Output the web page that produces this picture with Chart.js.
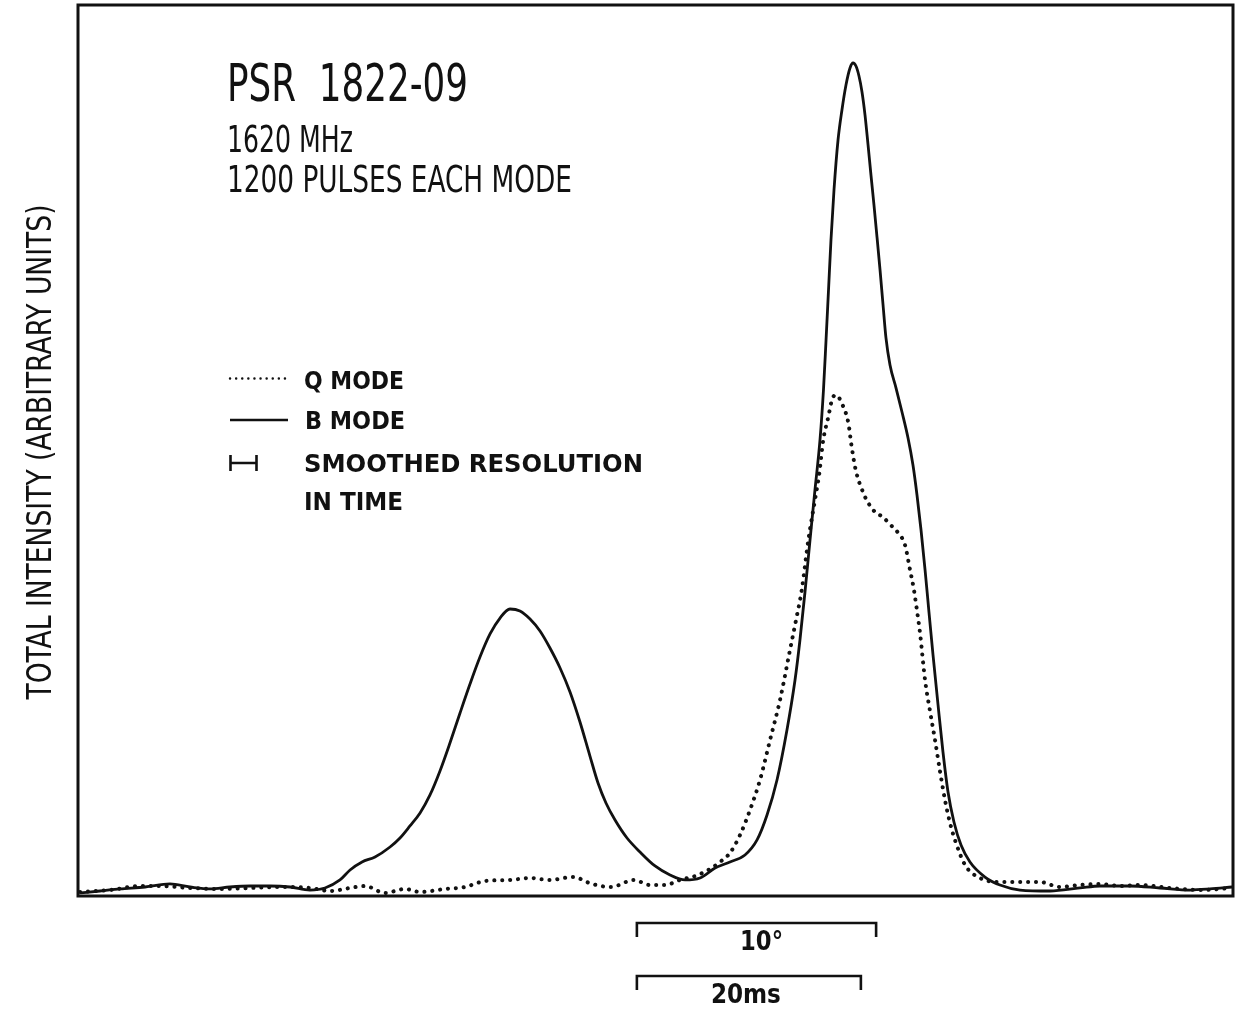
<!DOCTYPE html>
<html>
<head>
<meta charset="utf-8">
<script src="https://cdn.jsdelivr.net/npm/chart.js@4.4.1/dist/chart.umd.min.js"></script>
<style>
html,body{margin:0;padding:0;background:#fff;}
#wrap{width:1248px;height:1011px;position:relative;}
</style>
</head>
<body>
<div id="wrap"><canvas id="c"></canvas></div>
<script>
// ---- data (time in ms across the pulse window, intensity in arbitrary units 0..100) ----
const bTime = [0.18,1.96,3.75,5.98,8.21,10.0,11.79,13.57,15.36,17.14,18.93,20.71,22.05,23.39,24.29,25.36,26.52,27.86,
  28.75,29.64,30.54,31.43,32.32,33.21,34.11,35.00,35.89,36.79,37.68,38.57,39.46,40.36,41.25,42.14,43.04,43.93,44.82,45.71,46.43,47.14,47.95,49.02,50.18,51.52,52.86,54.20,
  55.54,56.88,58.21,59.55,60.63,61.52,62.41,63.30,64.02,64.46,64.91,65.36,65.80,66.25,66.56,66.79,67.01,67.23,67.50,67.86,68.21,68.57,68.93,69.20,69.46,69.73,70.00,70.27,70.54,70.80,71.07,71.34,71.61,71.88,72.14,72.50,73.04,73.57,74.11,74.55,74.91,75.27,75.63,75.98,76.34,76.79,77.23,77.68,78.21,78.84,79.64,80.98,82.32,84.11,86.79,89.46,91.25,93.93,96.61,99.29,101.07,103.04];
const bIntensity = [0.34,0.56,0.79,1.01,1.35,1.01,0.79,1.01,1.12,1.12,1.01,0.67,0.90,1.80,2.92,3.82,4.38,5.50,
  6.51,7.86,9.32,11.34,14.03,17.17,20.54,23.79,26.82,29.41,31.20,32.21,31.99,31.09,29.74,27.83,25.59,22.90,19.53,15.71,12.68,10.44,8.53,6.51,4.94,3.37,2.36,1.80,
  2.02,3.14,3.82,4.60,6.29,9.09,13.02,18.63,24.24,28.73,34.12,39.96,45.57,51.18,56.79,62.40,68.01,73.63,79.24,84.85,88.22,91.02,92.93,93.49,93.15,92.03,90.24,87.65,84.29,80.92,77.55,73.96,70.26,66.33,62.63,59.60,57.01,54.32,51.40,48.37,45.01,41.08,36.59,31.87,27.05,21.44,16.16,11.67,8.31,5.72,3.82,2.13,1.23,0.67,0.56,0.90,1.12,1.12,0.90,0.67,0.79,1.01];
const qTime = [0.18,2.86,5.54,7.32,10.0,12.68,15.36,18.04,20.71,22.50,24.29,25.63,27.41,29.20,30.54,32.77,34.55,36.34,38.57,40.36,42.14,44.20,45.89,47.59,49.64,51.07,52.41,53.75,55.09,56.43,57.32,58.21,59.11,60.0,60.89,61.79,62.68,63.57,64.11,64.62,65.21,65.80,66.19,66.54,66.99,67.32,67.62,67.90,68.19,68.78,69.08,69.44,70.12,70.56,71.16,71.85,72.56,73.24,73.84,74.29,74.64,74.94,75.18,75.63,76.07,76.52,76.96,77.41,77.86,78.30,79.20,80.54,82.32,84.11,85.89,87.68,89.46,91.25,93.04,94.82,97.50,100.18,103.04];
const qIntensity = [0.45,0.67,1.12,1.12,0.90,0.79,0.90,1.01,0.90,0.56,0.90,1.12,0.34,0.79,0.45,0.79,1.01,1.68,1.80,2.02,1.80,2.13,1.35,1.01,1.80,1.23,1.23,1.80,2.24,3.03,3.82,4.83,6.85,9.65,13.02,17.51,22.00,27.61,30.97,34.34,39.96,44.44,47.47,51.18,53.76,55.67,56.23,56.00,55.33,53.09,50.39,47.81,45.23,44.11,43.10,42.54,41.64,40.74,39.39,36.59,34.34,31.76,29.52,24.24,20.76,17.51,14.03,10.77,8.19,6.29,3.48,2.02,1.57,1.57,1.57,1.01,1.23,1.35,1.12,1.23,0.90,0.67,0.90];

const xRangeMs = [0, 103.125];
const yRange = [0, 100];

// scale bars (ms): 10 degrees of longitude (P = 769 ms) and 20 ms
const barStartMs = 49.9;
const barLengths = [21.36, 20];
const barLabels = ['10°', '20ms'];

// text
const titleLines = ['PSR  1822-09', '1620 MHz', '1200 PULSES EACH MODE'];
const legendLabels = ['Q MODE', 'B MODE', 'SMOOTHED RESOLUTION', 'IN TIME'];
const yAxisTitle = 'TOTAL INTENSITY (ARBITRARY UNITS)';

const INK = '#111';
const NARROW = "'Liberation Sans Narrow','DejaVu Sans Condensed','Roboto','Liberation Sans',sans-serif";
const WIDE = "'DejaVu Sans','Verdana',sans-serif";

function fitText(ctx, str, x, y, size, family, weight, width, align) {
  ctx.save();
  ctx.font = weight + ' ' + size + 'px ' + family;
  ctx.textBaseline = 'alphabetic';
  ctx.textAlign = 'left';
  ctx.fillStyle = INK;
  const w = ctx.measureText(str).width;
  const left = align === 'center' ? x - width / 2 : x;
  ctx.translate(left, y);
  ctx.scale(width / w, 1);
  ctx.fillText(str, 0, 0);
  ctx.restore();
}

const decor = {
  id: 'decor',
  afterDraw(chart) {
    const ctx = chart.ctx;
    const a = chart.chartArea;
    const xs = chart.scales.x;
    ctx.save();
    // frame
    ctx.strokeStyle = INK;
    ctx.lineWidth = 3;
    ctx.strokeRect(a.left, a.top, a.right - a.left, a.bottom - a.top);

    // title block
    fitText(ctx, titleLines[0], 227, 101, 51, NARROW, 'normal', 241, 'left');
    fitText(ctx, titleLines[1], 227, 152, 37, NARROW, 'normal', 126, 'left');
    fitText(ctx, titleLines[2], 227, 192, 37, NARROW, 'normal', 345, 'left');

    // y axis title
    ctx.save();
    ctx.translate(51, 452);
    ctx.rotate(-Math.PI / 2);
    fitText(ctx, yAxisTitle, 0, 0, 34, NARROW, 'normal', 495, 'center');
    ctx.restore();

    // legend samples
    ctx.strokeStyle = INK;
    ctx.lineCap = 'round';
    ctx.lineWidth = 2.4;
    ctx.setLineDash([0.1, 6]);
    ctx.beginPath(); ctx.moveTo(230, 378.5); ctx.lineTo(288, 378.5); ctx.stroke();
    ctx.setLineDash([]);
    ctx.lineCap = 'butt';
    ctx.lineWidth = 2.6;
    ctx.beginPath(); ctx.moveTo(230, 420); ctx.lineTo(288, 420); ctx.stroke();
    ctx.beginPath();
    ctx.moveTo(230.5, 455); ctx.lineTo(230.5, 471);
    ctx.moveTo(256.5, 455); ctx.lineTo(256.5, 471);
    ctx.moveTo(230.5, 463); ctx.lineTo(256.5, 463);
    ctx.stroke();
    fitText(ctx, legendLabels[0], 304, 389, 24, WIDE, 'bold', 100, 'left');
    fitText(ctx, legendLabels[1], 305, 428.5, 24, WIDE, 'bold', 100, 'left');
    fitText(ctx, legendLabels[2], 304, 471.5, 24, WIDE, 'bold', 339, 'left');
    fitText(ctx, legendLabels[3], 304, 510, 24, WIDE, 'bold', 99, 'left');

    // scale bars under the axis
    const barY = [923, 976];
    const textY = [950, 1003];
    const textW = [43, 70];
    ctx.lineWidth = 2.6;
    for (let i = 0; i < barLengths.length; i++) {
      const x0 = xs.getPixelForValue(barStartMs);
      const x1 = xs.getPixelForValue(barStartMs + barLengths[i]);
      ctx.beginPath();
      ctx.moveTo(x0, barY[i] + 14); ctx.lineTo(x0, barY[i]);
      ctx.lineTo(x1, barY[i]); ctx.lineTo(x1, barY[i] + 14);
      ctx.stroke();
      fitText(ctx, barLabels[i], (x0 + x1) / 2 + (i === 0 ? 5 : -3), textY[i], 27, WIDE, 'bold', textW[i], 'center');
    }
    ctx.restore();
  }
};

const toPts = (t, v) => t.map((x, i) => ({ x: x, y: v[i] }));

new Chart(document.getElementById('c'), {
  type: 'line',
  data: {
    datasets: [
      {
        label: 'B MODE',
        data: toPts(bTime, bIntensity),
        borderColor: INK,
        borderWidth: 2.8,
        pointRadius: 0,
        fill: false,
        cubicInterpolationMode: 'monotone'
      },
      {
        label: 'Q MODE',
        data: toPts(qTime, qIntensity),
        borderColor: INK,
        borderWidth: 4,
        borderDash: [0.1, 7.8],
        borderCapStyle: 'round',
        pointRadius: 0,
        fill: false,
        cubicInterpolationMode: 'monotone'
      }
    ]
  },
  options: {
    responsive: true,
    maintainAspectRatio: false,
    animation: false,
    layout: { padding: { left: 78, top: 5, right: 15, bottom: 115 } },
    plugins: { legend: { display: false }, tooltip: { enabled: false } },
    scales: {
      x: { type: 'linear', min: xRangeMs[0], max: xRangeMs[1], display: false },
      y: { min: yRange[0], max: yRange[1], display: false }
    }
  },
  plugins: [decor]
});
</script>
</body>
</html>
